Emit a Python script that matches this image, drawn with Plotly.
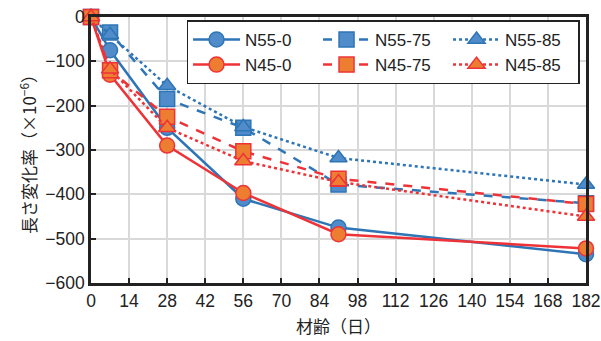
import plotly.graph_objects as go

days = [0, 7, 28, 56, 91, 182]
n55_0 = [0, -75, -250, -410, -475, -535]
n55_75 = [0, -35, -185, -250, -378, -420]
n55_85 = [0, -40, -155, -248, -318, -378]
n45_0 = [0, -130, -290, -397, -490, -522]
n45_75 = [0, -120, -225, -303, -365, -422]
n45_85 = [0, -118, -250, -325, -372, -450]
x_ticks = [0, 14, 28, 42, 56, 70, 84, 98, 112, 126, 140, 154, 168, 182]
y_ticks = [0, -100, -200, -300, -400, -500, -600]

BLUE_LINE = "#2E75B6"
BLUE_FILL = "#4F8CC9"
RED_LINE = "#EE3338"
RED_FILL = "#ED7D31"

series = [
    ("N55-0", n55_0, BLUE_LINE, BLUE_FILL, "solid", "circle"),
    ("N55-75", n55_75, BLUE_LINE, BLUE_FILL, "dash", "square"),
    ("N55-85", n55_85, BLUE_LINE, BLUE_FILL, "dot", "triangle-up"),
    ("N45-0", n45_0, RED_LINE, RED_FILL, "solid", "circle"),
    ("N45-75", n45_75, RED_LINE, RED_FILL, "dash", "square"),
    ("N45-85", n45_85, RED_LINE, RED_FILL, "dot", "triangle-up"),
]

fig = go.Figure()
for name, vals, lc, fc, dash, sym in series:
    fig.add_trace(go.Scatter(
        x=days, y=vals, name=name, mode="lines+markers",
        line=dict(color=lc, width=2.5, dash=dash),
        marker=dict(symbol=sym, size=15, color=fc, line=dict(color=lc, width=1.5)),
        cliponaxis=False,
    ))

FONT = "Liberation Sans, Arial, Noto Sans CJK JP"
fig.update_layout(
    width=601, height=341, autosize=False,
    margin=dict(l=91, r=15, t=17, b=58),
    paper_bgcolor="white", plot_bgcolor="white",
    font=dict(family=FONT, size=17, color="#222"),
    showlegend=True,
    legend=dict(
        orientation="h", x=0.193, y=0.987, xanchor="left", yanchor="top",
        bgcolor="white", bordercolor="#222", borderwidth=1.5,
        entrywidth=68, entrywidthmode="pixels",
        font=dict(size=17, family=FONT), itemwidth=47,
    ),
    xaxis=dict(
        range=[0, 182], tickvals=x_ticks, ticktext=[str(v) for v in x_ticks],
        showgrid=True, gridcolor="#D9D9D9", gridwidth=1.5,
        showline=True, linecolor="#222", linewidth=2.5, mirror=True,
        ticks="inside", ticklen=5, tickwidth=2, tickcolor="#222",
        zeroline=False, tickfont=dict(size=17.5), automargin=False,
        ticklabeloverflow="allow",
        title=dict(text="材齢（日）", font=dict(family="Noto Sans CJK JP", size=17), standoff=12),
    ),
    yaxis=dict(
        range=[-600, 0], tickvals=y_ticks, ticktext=[str(v).replace("-", "−") for v in y_ticks],
        showgrid=True, gridcolor="#D9D9D9", gridwidth=1.5,
        showline=True, linecolor="#222", linewidth=2.5, mirror=True,
        ticks="inside", ticklen=5, tickwidth=2, tickcolor="#222",
        zeroline=False, tickfont=dict(size=17.5), automargin=False,
        ticklabeloverflow="allow",
        title=dict(text="長さ変化率（×10<sup>−6</sup>）", font=dict(family="Noto Sans CJK JP", size=17), standoff=5),
    ),
)

post = ("document.body.style.margin='0';document.body.style.overflow='hidden';"
        "var gd=document.getElementById('{plot_id}');Plotly.relayout(gd,{width:601,height:341});")
fig.write_html("out.html", post_script=post, config={"responsive": False, "displayModeBar": False})
